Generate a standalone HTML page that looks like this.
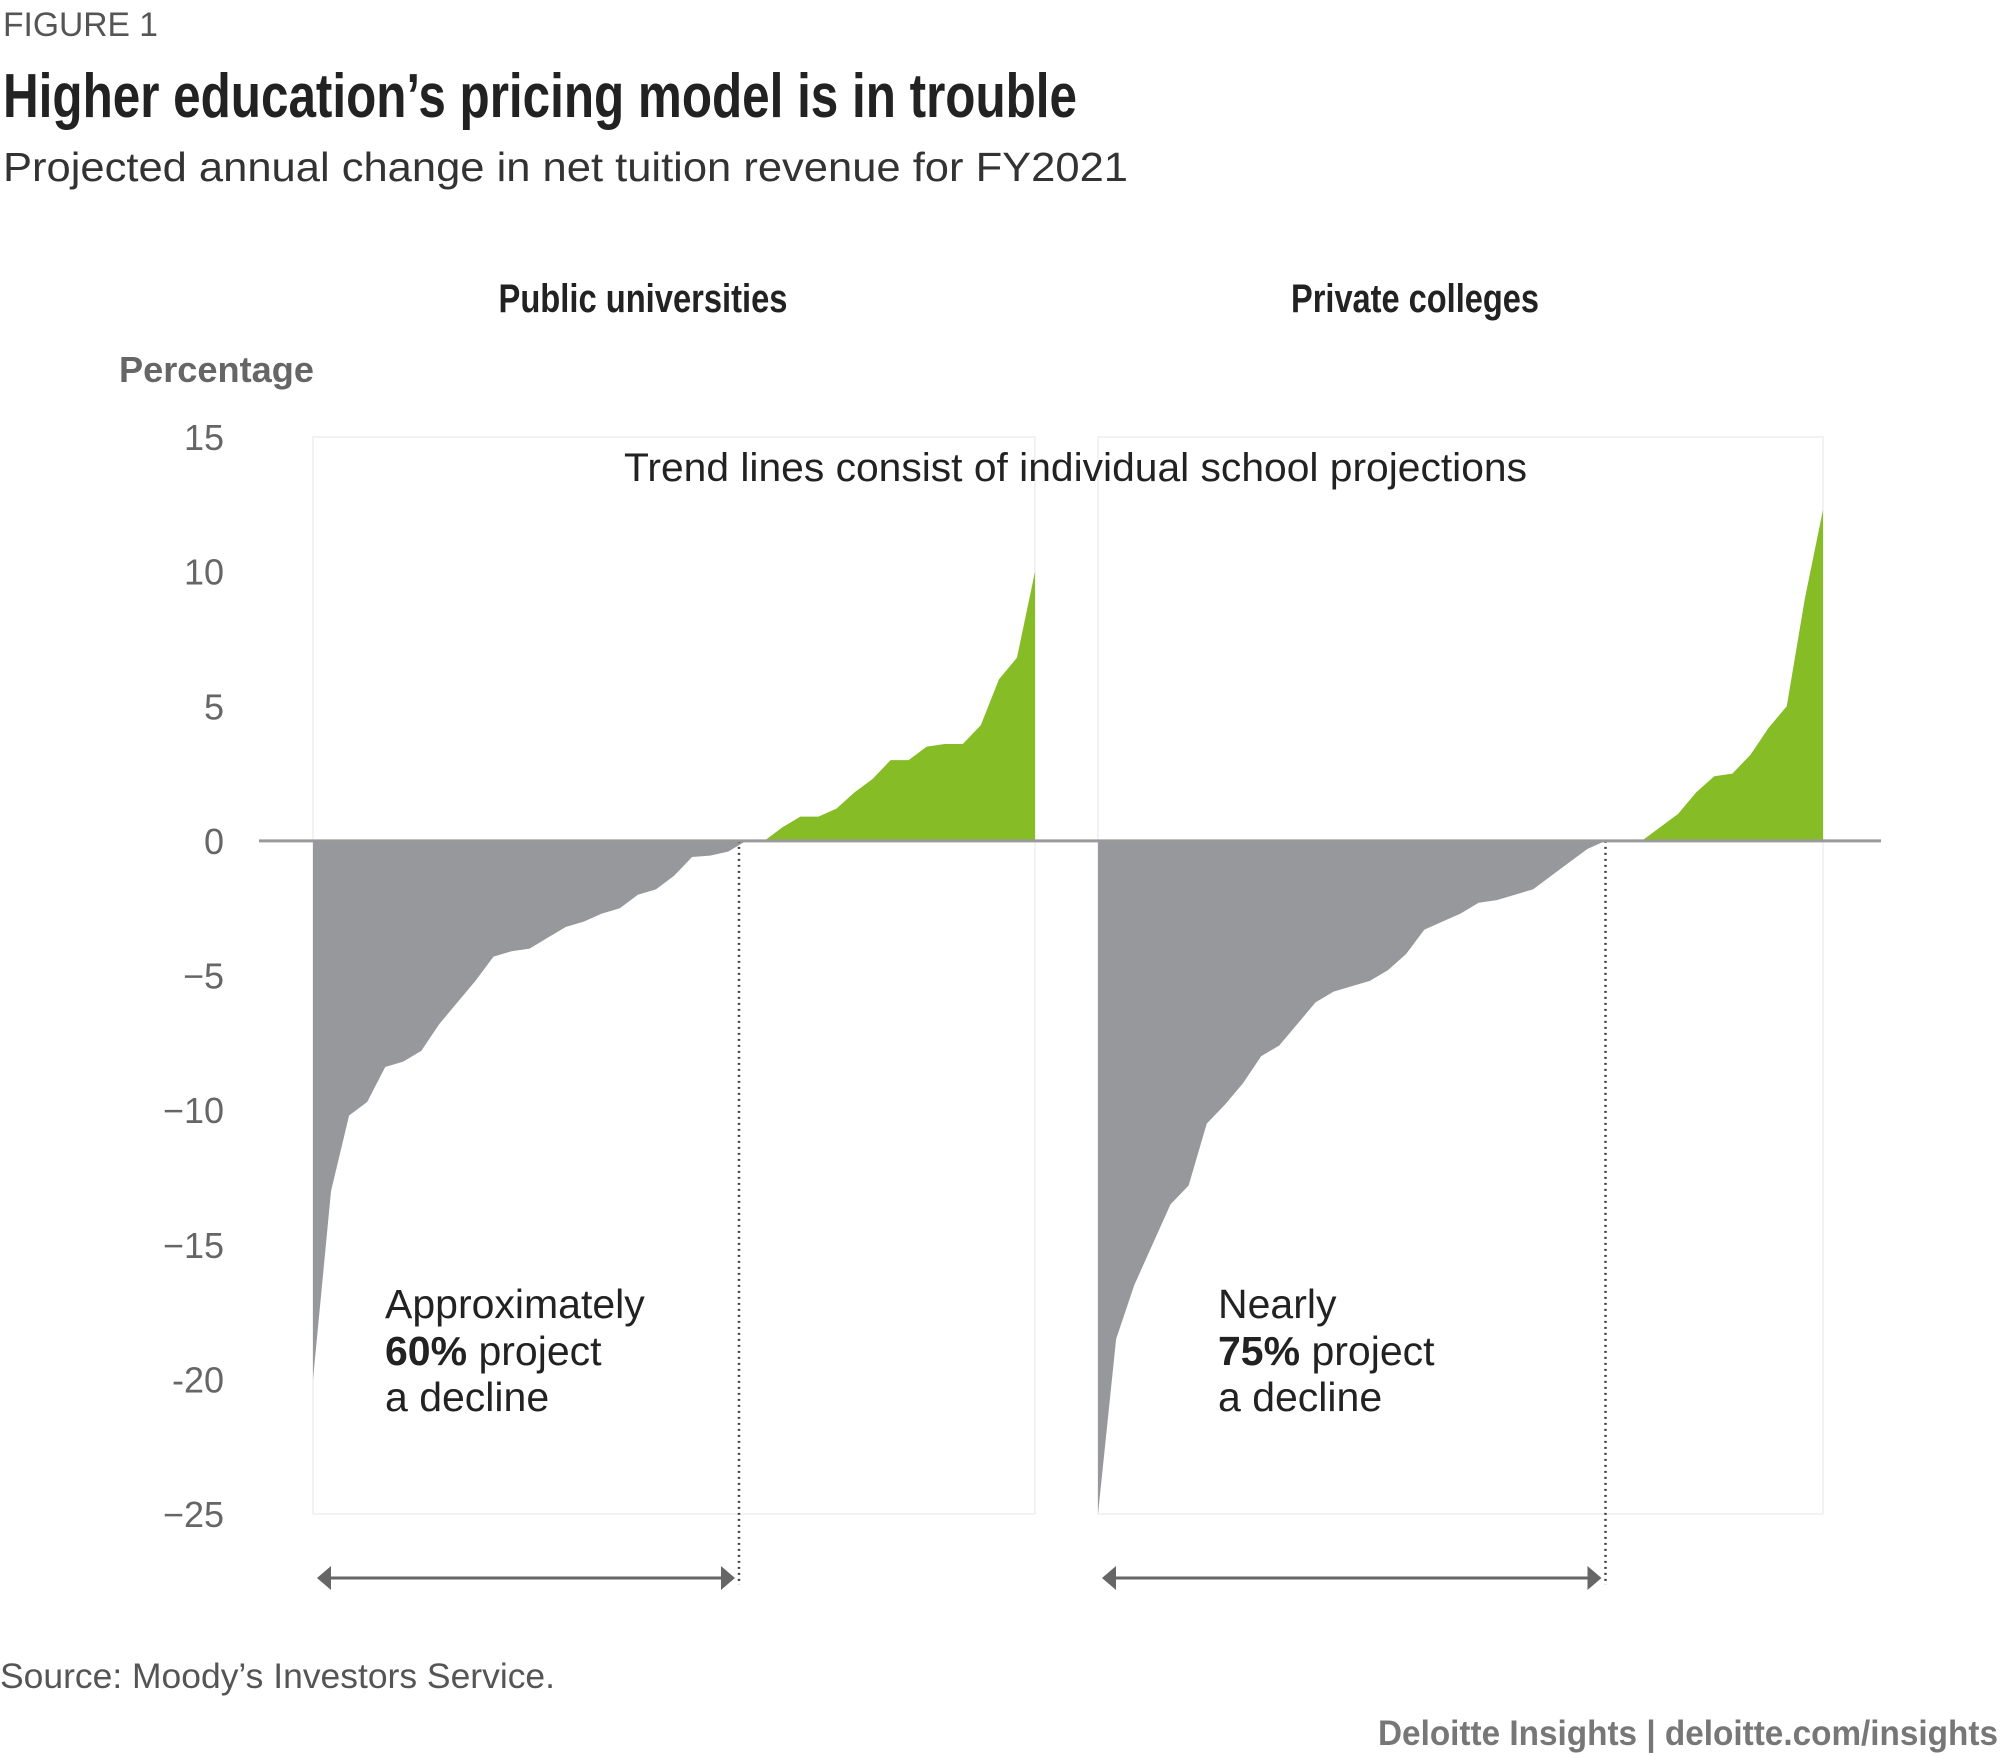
<!DOCTYPE html>
<html><head><meta charset="utf-8"><style>
html,body{margin:0;padding:0;background:#fff;}
svg{display:block;}
text{font-family:"Liberation Sans",sans-serif;}
</style></head><body>
<svg id="chart" width="2000" height="1756" viewBox="0 0 2000 1756" xmlns="http://www.w3.org/2000/svg">
<text x="3" y="36" font-size="34" fill="#555" textLength="155" lengthAdjust="spacingAndGlyphs">FIGURE 1</text>
<text x="3" y="117" font-size="62" font-weight="bold" fill="#222" style="font-family:'Liberation Sans Narrow','Liberation Sans',sans-serif" textLength="1074" lengthAdjust="spacingAndGlyphs">Higher education’s pricing model is in trouble</text>
<text x="3" y="181" font-size="41" fill="#333" textLength="1125" lengthAdjust="spacingAndGlyphs">Projected annual change in net tuition revenue for FY2021</text>
<text x="643" y="312" font-size="40" font-weight="bold" fill="#222" text-anchor="middle" style="font-family:'Liberation Sans Narrow','Liberation Sans',sans-serif" textLength="289" lengthAdjust="spacingAndGlyphs">Public universities</text>
<text x="1415" y="312" font-size="40" font-weight="bold" fill="#222" text-anchor="middle" style="font-family:'Liberation Sans Narrow','Liberation Sans',sans-serif" textLength="248" lengthAdjust="spacingAndGlyphs">Private colleges</text>
<text x="119" y="382" font-size="36" font-weight="bold" fill="#666" textLength="195" lengthAdjust="spacingAndGlyphs">Percentage</text>
<g id="plot"></g>
<text x="624" y="481" font-size="40" fill="#222" textLength="903" lengthAdjust="spacingAndGlyphs">Trend lines consist of individual school projections</text>
<text font-size="41" fill="#222">
<tspan x="385" y="1318">Approximately</tspan>
<tspan x="385" y="1365"><tspan font-weight="bold">60%</tspan> project</tspan>
<tspan x="385" y="1411">a decline</tspan></text>
<text font-size="41" fill="#222">
<tspan x="1218" y="1318">Nearly</tspan>
<tspan x="1218" y="1365"><tspan font-weight="bold">75%</tspan> project</tspan>
<tspan x="1218" y="1411">a decline</tspan></text>
<text x="0" y="1688" font-size="35" fill="#555" textLength="555" lengthAdjust="spacingAndGlyphs">Source: Moody’s Investors Service.</text>
<text x="1998" y="1745" font-size="35" font-weight="bold" fill="#777" text-anchor="end" textLength="620" lengthAdjust="spacingAndGlyphs">Deloitte Insights | deloitte.com/insights</text>
</svg>
<script>
const yTicks = [15, 10, 5, 0, -5, -10, -15, -20, -25];
const yTickLabels = ["15", "10", "5", "0", "\u22125", "\u221210", "\u221215", "-20", "\u221225"];
const publicValues = [-20,-13,-10.2,-9.7,-8.4,-8.2,-7.8,-6.8,-6.0,-5.2,-4.3,-4.1,-4.0,-3.6,-3.2,-3.0,-2.7,-2.5,-2.0,-1.8,-1.3,-0.6,-0.55,-0.4,0,0,0.5,0.9,0.9,1.2,1.8,2.3,3.0,3.0,3.5,3.6,3.6,4.3,6.0,6.8,10];
const privateValues = [-25,-18.5,-16.5,-15,-13.5,-12.8,-10.5,-9.8,-9.0,-8.0,-7.6,-6.8,-6.0,-5.6,-5.4,-5.2,-4.8,-4.2,-3.3,-3.0,-2.7,-2.3,-2.2,-2.0,-1.8,-1.3,-0.8,-0.3,0,0,0,0.5,1.0,1.8,2.4,2.5,3.2,4.2,5.0,9.0,12.3];
const declineShare = [0.59, 0.70];

const NS = "http://www.w3.org/2000/svg";
const plot = document.getElementById('plot');
const Y0 = 437, Y1 = 1514, VMAX = 15, VMIN = -25;
function yScale(v){ return Y0 + (VMAX - v) / (VMAX - VMIN) * (Y1 - Y0); }
function mk(tag, attrs){ const e = document.createElementNS(NS, tag); for (const k in attrs) e.setAttribute(k, attrs[k]); plot.appendChild(e); return e; }

const panels = [
  {x0: 313, x1: 1035, vals: publicValues, share: declineShare[0], name: 'public'},
  {x0: 1098, x1: 1823, vals: privateValues, share: declineShare[1], name: 'private'}
];

panels.forEach(p => {
  const bg = mk('rect', {x: p.x0, y: Y0, width: p.x1 - p.x0, height: Y1 - Y0, fill: 'none', stroke: '#eee', 'stroke-width': 1.5});
  
  
});

yTicks.forEach((t, i) => {
  const tx = mk('text', {x: 224, y: yScale(t) + 13, 'font-size': 36, fill: '#666', 'text-anchor': 'end'});
  tx.textContent = yTickLabels[i];
  
  
});

panels.forEach(p => {
  const n = p.vals.length;
  const xs = i => p.x0 + i * (p.x1 - p.x0) / (n - 1);
  const z = yScale(0);
  let neg = `M${xs(0)},${z}`, pos = `M${xs(0)},${z}`;
  p.vals.forEach((v, i) => {
    neg += ` L${xs(i)},${yScale(Math.min(v, 0))}`;
    pos += ` L${xs(i)},${yScale(Math.max(v, 0))}`;
  });
  neg += ` L${xs(n - 1)},${z} Z`;
  pos += ` L${xs(n - 1)},${z} Z`;
  const a = mk('path', {d: neg, fill: '#97989c'});
  
  
  const b = mk('path', {d: pos, fill: '#86bc25'});
  
  
  const dx = p.x0 + p.share * (p.x1 - p.x0);
  const dl = mk('line', {x1: dx, y1: z, x2: dx, y2: 1585, stroke: '#444', 'stroke-width': 2.5, 'stroke-dasharray': '2 4'});
  
  
  const ay = 1578;
  const ar = mk('line', {x1: p.x0 + 10, y1: ay, x2: dx - 10, y2: ay, stroke: '#666', 'stroke-width': 3});
  
  
  const h1 = mk('polygon', {points: `${p.x0 + 4},${ay} ${p.x0 + 18},${ay - 12} ${p.x0 + 18},${ay + 12}`, fill: '#666'});
  
  
  const h2 = mk('polygon', {points: `${dx - 4},${ay} ${dx - 18},${ay - 12} ${dx - 18},${ay + 12}`, fill: '#666'});
  
  
});

const zl = mk('line', {x1: 259, y1: yScale(0), x2: 1881, y2: yScale(0), stroke: '#999', 'stroke-width': 3});


</script>
</body></html>
